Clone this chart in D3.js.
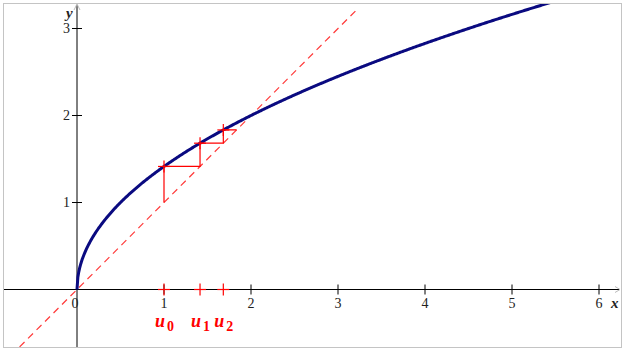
<!DOCTYPE html>
<html>
<head>
<meta charset="utf-8">
<script src="https://cdn.jsdelivr.net/npm/d3@7"></script>
<style>
  body { margin: 0; background: #fff; }
  text { font-family: "Liberation Serif", "Times New Roman", serif; }
</style>
</head>
<body>
<svg id="chart" width="625" height="355"></svg>
<script>
// données
const xTicks = [0, 1, 2, 3, 4, 5, 6];
const yTicks = [1, 2, 3];
const suite = [1, 1.4142, 1.6818, 1.8340];   // u0, u1, u2, u3  (u(n+1) = sqrt(2 u(n)))
const suiteLabels = ["0", "1", "2"];
const f = x => Math.sqrt(2 * x);

const svg = d3.select("#chart");
const box = {left: 3, top: 3, right: 621, bottom: 347};

const x = d3.scaleLinear().domain([0, 1]).range([77, 164]);
const y = d3.scaleLinear().domain([0, 1]).range([289.5, 202.5]);

// cadre
svg.append("rect")
  .attr("x", box.left + 0.5).attr("y", box.top + 0.5)
  .attr("width", box.right - box.left).attr("height", box.bottom - box.top)
  .attr("fill", "none").attr("stroke", "#c4c4c4");

svg.append("clipPath").attr("id", "clip")
  .append("rect")
  .attr("x", box.left + 1).attr("y", box.top + 1)
  .attr("width", box.right - box.left - 1).attr("height", box.bottom - box.top - 1);

const g = svg.append("g").attr("clip-path", "url(#clip)");

// axes
g.append("line")
  .attr("x1", box.left).attr("x2", box.right - 2)
  .attr("y1", y(0)).attr("y2", y(0))
  .attr("stroke", "#000");
g.append("line")
  .attr("x1", x(0)).attr("x2", x(0))
  .attr("y1", box.bottom).attr("y2", box.top + 2)
  .attr("stroke", "#000");

// flèches
g.append("path")
  .attr("d", `M${box.right - 6},${y(0) - 3}L${box.right - 1},${y(0)}L${box.right - 6},${y(0) + 3}`)
  .attr("fill", "none").attr("stroke", "#bbb");
g.append("path")
  .attr("d", `M${x(0) - 3},${box.top + 7}L${x(0)},${box.top + 1}L${x(0) + 3},${box.top + 7}`)
  .attr("fill", "none").attr("stroke", "#bbb");

// graduations X
g.selectAll(".xt").data(xTicks.filter(d => d !== 0)).enter().append("line")
  .attr("x1", d => x(d)).attr("x2", d => x(d))
  .attr("y1", y(0) - 5).attr("y2", y(0) + 5)
  .attr("stroke", "#000");
svg.selectAll(".xl").data(xTicks).enter().append("text")
  .attr("x", d => x(d) + (d === 0 ? -2 : 0)).attr("y", y(0) + 18)
  .attr("text-anchor", "middle")
  .style("font-size", "14px")
  .style("fill", "#222")
  .text(d => d);

// graduations Y
g.selectAll(".yt").data(yTicks).enter().append("line")
  .attr("x1", x(0) - 5).attr("x2", x(0) + 5)
  .attr("y1", d => y(d)).attr("y2", d => y(d))
  .attr("stroke", "#000");
svg.selectAll(".yl").data(yTicks).enter().append("text")
  .attr("x", x(0) - 7).attr("y", d => y(d) + 4.5)
  .attr("text-anchor", "end")
  .style("font-size", "14px")
  .style("fill", "#222")
  .text(d => d);

// noms des axes
svg.append("text").attr("x", 611).attr("y", y(0) + 18)
  .style("font-size", "15px")
  .style("font-style", "italic").style("font-weight", "bold").style("fill", "#222")
  .text("x");
svg.append("text").attr("x", 66).attr("y", 18)
  .style("font-size", "15px")
  .style("font-style", "italic").style("font-weight", "bold").style("fill", "#222")
  .text("y");

// droite y = x
g.append("line")
  .attr("x1", x(-0.66)).attr("y1", y(-0.66))
  .attr("x2", x(3.2)).attr("y2", y(3.2))
  .attr("stroke", "#ff3a3a").attr("stroke-width", 1.2)
  .attr("stroke-dasharray", "7,5");

// courbe y = sqrt(2x)
const pts = d3.range(0, 601).map(i => i / 100).map(t => [t, f(t)]);
g.append("path")
  .datum(pts)
  .attr("d", d3.line().x(d => x(d[0])).y(d => y(d[1])))
  .attr("fill", "none").attr("stroke", "#0a0a80").attr("stroke-width", 3);

// escalier
const stair = [[suite[0], suite[0]]];
for (let i = 0; i < suite.length - 1; i++) {
  stair.push([suite[i], suite[i + 1]]);
  stair.push([suite[i + 1], suite[i + 1]]);
}
g.append("path")
  .datum(stair)
  .attr("d", d3.line().x(d => x(d[0])).y(d => y(d[1])))
  .attr("fill", "none").attr("stroke", "#ff0000").attr("stroke-width", 1.2);

// croix sur la courbe
const croix = suite.slice(0, 3).map((u, i) => [u, suite[i + 1]]);
croix.forEach(([a, b]) => {
  g.append("line").attr("x1", x(a)).attr("x2", x(a)).attr("y1", y(b) - 6).attr("y2", y(b) + 6)
    .attr("stroke", "#ff0000").attr("stroke-width", 1.2);
  g.append("line").attr("x1", x(a) - 6).attr("x2", x(a) + 6).attr("y1", y(b)).attr("y2", y(b))
    .attr("stroke", "#ff0000").attr("stroke-width", 1.2);
});

// croix sur l'axe des x
suite.slice(0, 3).forEach(u => {
  g.append("line").attr("x1", x(u)).attr("x2", x(u)).attr("y1", y(0) - 6).attr("y2", y(0) + 6)
    .attr("stroke", "#ff0000").attr("stroke-width", 1.2);
  g.append("line").attr("x1", x(u) - 6).attr("x2", x(u) + 6).attr("y1", y(0)).attr("y2", y(0))
    .attr("stroke", "#ff0000").attr("stroke-width", 1.2);
});

// étiquettes u0, u1, u2
suite.slice(0, 3).forEach((u, i) => {
  const t = svg.append("text")
    .attr("x", x(u) - 9).attr("y", y(0) + 37)
    .style("font-weight", "bold").style("fill", "#ff0000");
  t.append("tspan").style("font-size", "18px").style("font-style", "italic").text("u");
  t.append("tspan").attr("dx", 2).attr("dy", 4).style("font-size", "14px").text(suiteLabels[i]);
});
</script>
</body>
</html>
